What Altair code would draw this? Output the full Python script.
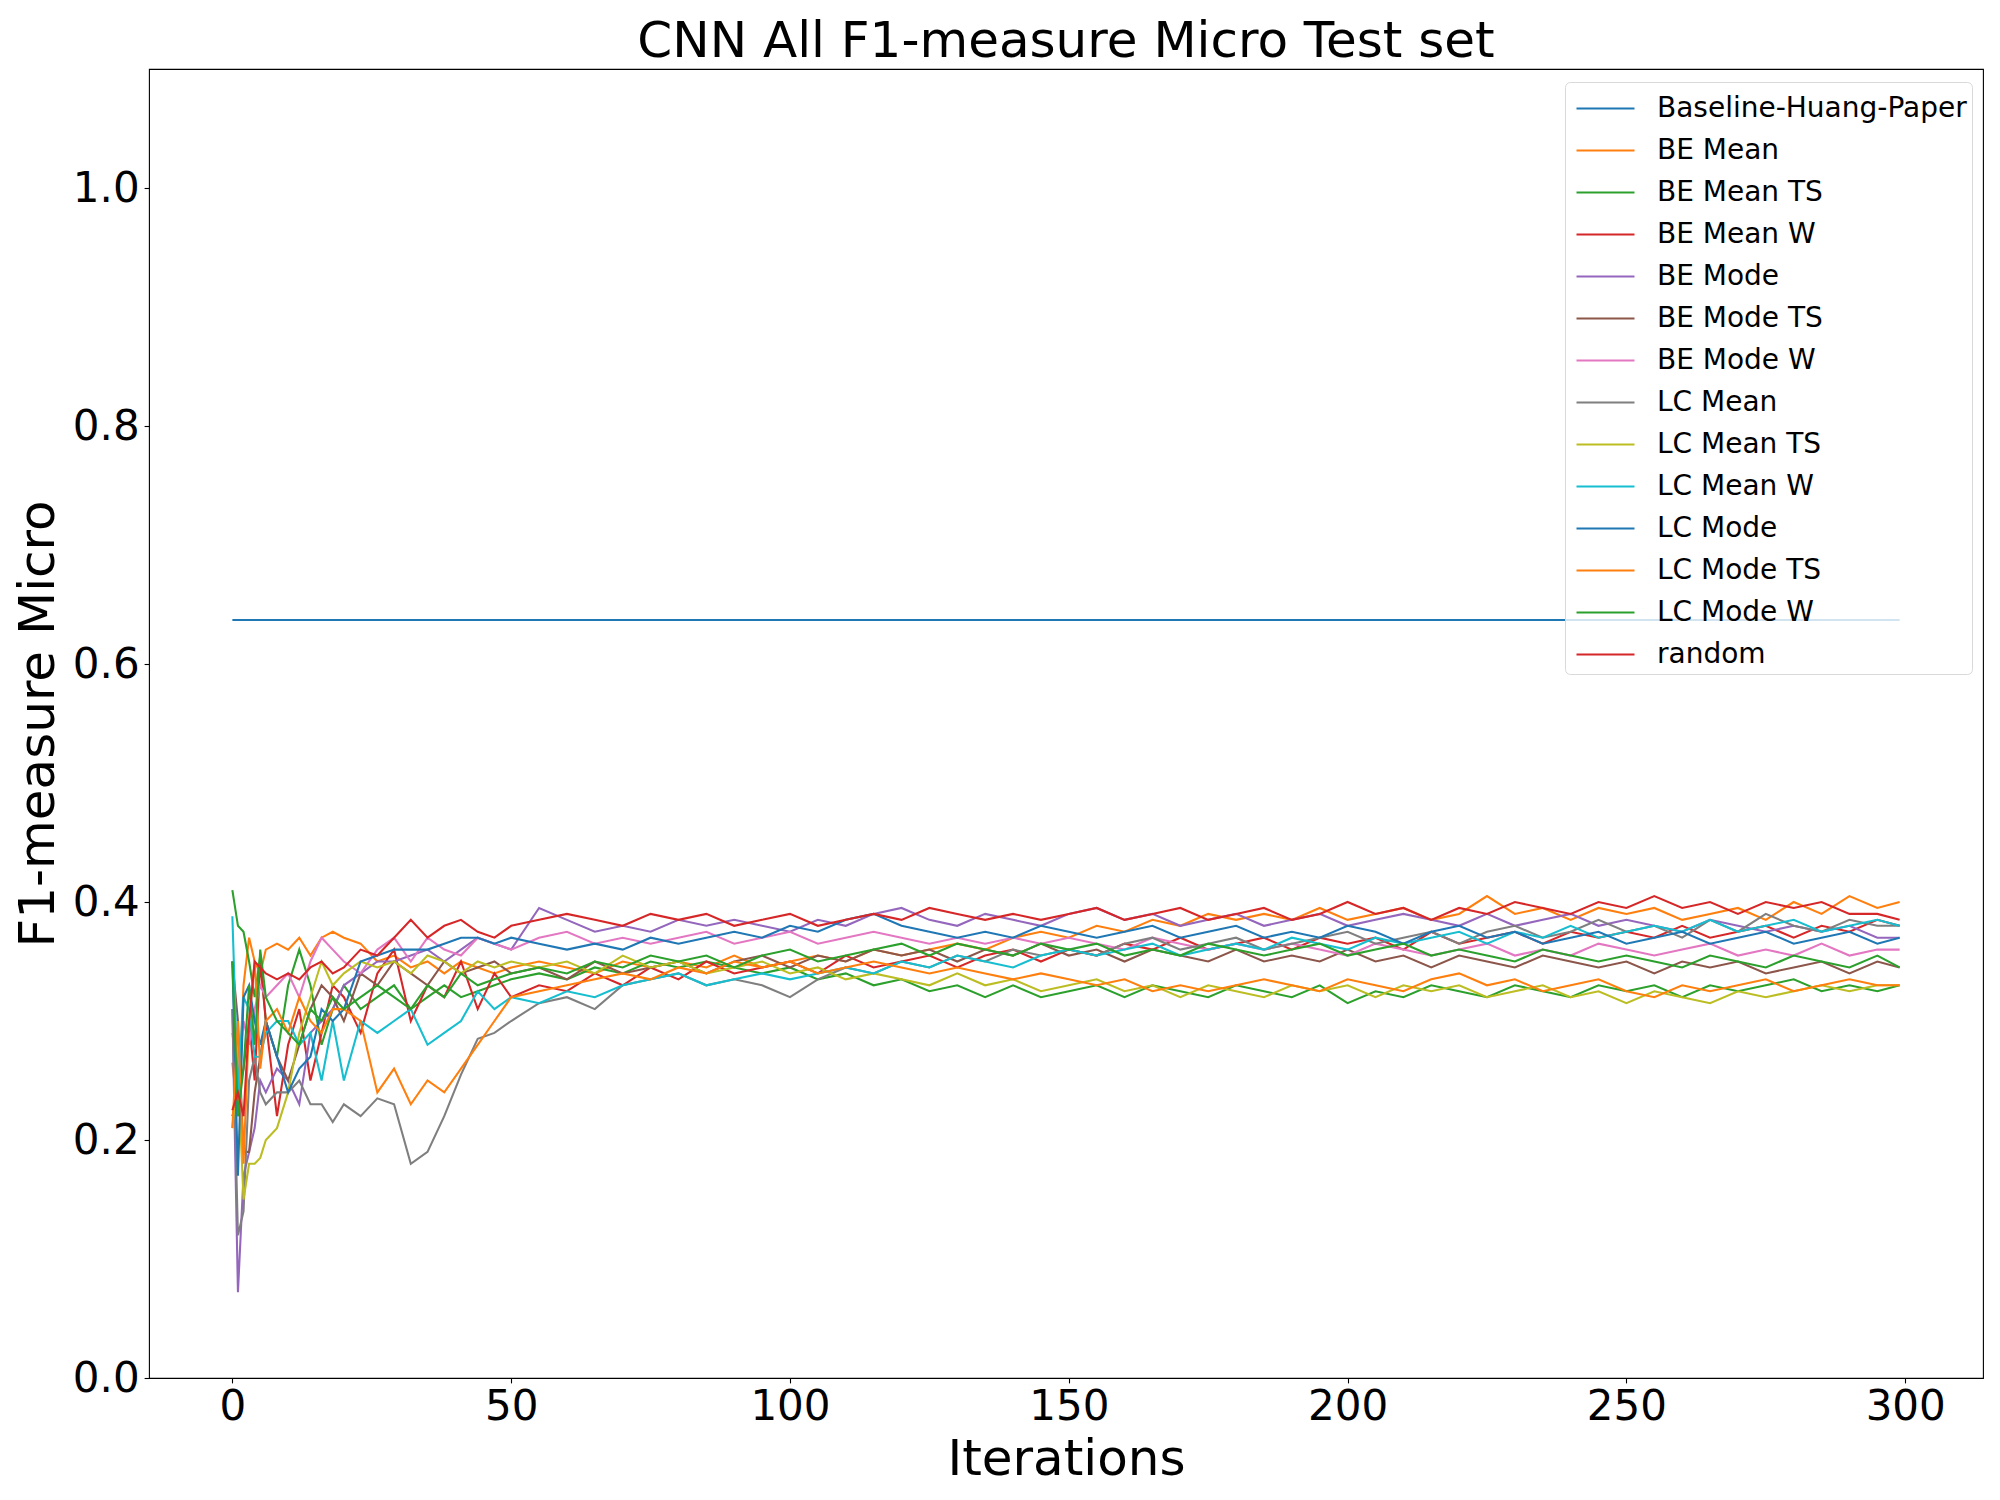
import altair as alt
import pandas as pd

NAMES = ["Baseline-Huang-Paper", "BE Mean", "BE Mean TS", "BE Mean W", "BE Mode",
         "BE Mode TS", "BE Mode W", "LC Mean", "LC Mean TS", "LC Mean W",
         "LC Mode", "LC Mode TS", "LC Mode W", "random"]
COLORS = ["#1f77b4", "#ff7f0e", "#2ca02c", "#d62728", "#9467bd", "#8c564b",
          "#e377c2", "#7f7f7f", "#bcbd22", "#17becf", "#1f77b4", "#ff7f0e",
          "#2ca02c", "#d62728"]

ITER_EARLY = [0, 1, 2, 3, 4, 5, 6, 8, 10, 12, 14, 16, 18, 20, 23, 26, 29, 32, 35, 38, 41, 44, 47, 50]
ITER_LATE = [55, 60, 65, 70, 75, 80, 85, 90, 95, 100,
             105, 110, 115, 120, 125, 130, 135, 140, 145, 150,
             155, 160, 165, 170, 175, 180, 185, 190, 195, 200,
             205, 210, 215, 220, 225, 230, 235, 240, 245, 250,
             255, 260, 265, 270, 275, 280, 285, 290, 295, 299]
ITERS = ITER_EARLY + ITER_LATE

BASELINE_ITERS = [0, 299]
BASELINE = [0.637, 0.637]

BE_MEAN = [0.265, 0.22, 0.33, 0.37, 0.35, 0.34, 0.36, 0.365, 0.36, 0.37, 0.355, 0.37, 0.375, 0.37, 0.365, 0.35, 0.355, 0.345, 0.35, 0.34, 0.35, 0.345, 0.34, 0.345] + [
    0.35, 0.345, 0.34, 0.35, 0.345, 0.35, 0.345, 0.355, 0.345, 0.35,
    0.355, 0.35, 0.36, 0.355, 0.36, 0.365, 0.36, 0.37, 0.375, 0.37,
    0.38, 0.375, 0.385, 0.38, 0.39, 0.385, 0.39, 0.385, 0.395, 0.385,
    0.39, 0.395, 0.385, 0.39, 0.405, 0.39, 0.395, 0.385, 0.395, 0.39,
    0.395, 0.385, 0.39, 0.395, 0.385, 0.4, 0.39, 0.405, 0.395, 0.40]

BE_MEAN_TS = [0.41, 0.38, 0.375, 0.35, 0.32, 0.355, 0.30, 0.27, 0.33, 0.36, 0.33, 0.28, 0.31, 0.33, 0.31, 0.32, 0.33, 0.31, 0.32, 0.33, 0.32, 0.325, 0.33, 0.335] + [
    0.34, 0.335, 0.345, 0.34, 0.35, 0.345, 0.35, 0.345, 0.34, 0.345,
    0.335, 0.34, 0.33, 0.335, 0.325, 0.33, 0.32, 0.33, 0.32, 0.325,
    0.33, 0.32, 0.33, 0.325, 0.32, 0.33, 0.325, 0.32, 0.33, 0.315,
    0.325, 0.32, 0.33, 0.325, 0.32, 0.33, 0.325, 0.32, 0.33, 0.325,
    0.33, 0.32, 0.33, 0.325, 0.33, 0.335, 0.325, 0.33, 0.325, 0.33]

BE_MEAN_W = [0.22, 0.24, 0.26, 0.30, 0.25, 0.35, 0.30, 0.22, 0.28, 0.31, 0.25, 0.29, 0.33, 0.32, 0.29, 0.34, 0.36, 0.30, 0.33, 0.32, 0.35, 0.31, 0.34, 0.32] + [
    0.33, 0.325, 0.34, 0.33, 0.345, 0.335, 0.35, 0.34, 0.345, 0.35,
    0.34, 0.355, 0.345, 0.35, 0.355, 0.345, 0.355, 0.36, 0.35, 0.36,
    0.355, 0.365, 0.36, 0.37, 0.36, 0.365, 0.37, 0.36, 0.37, 0.365,
    0.37, 0.36, 0.375, 0.365, 0.37, 0.375, 0.365, 0.375, 0.37, 0.375,
    0.37, 0.38, 0.37, 0.375, 0.38, 0.37, 0.38, 0.375, 0.385, 0.38]

BE_MODE = [0.31, 0.072, 0.17, 0.19, 0.21, 0.25, 0.24, 0.26, 0.25, 0.23, 0.29, 0.30, 0.31, 0.33, 0.34, 0.35, 0.35, 0.355, 0.36, 0.35, 0.36, 0.37, 0.365, 0.36] + [
    0.395, 0.385, 0.375, 0.38, 0.375, 0.385, 0.38, 0.385, 0.38, 0.375,
    0.385, 0.38, 0.39, 0.395, 0.385, 0.38, 0.39, 0.385, 0.38, 0.39,
    0.395, 0.385, 0.39, 0.38, 0.385, 0.39, 0.38, 0.385, 0.39, 0.38,
    0.385, 0.39, 0.385, 0.38, 0.39, 0.38, 0.385, 0.39, 0.38, 0.385,
    0.38, 0.375, 0.385, 0.38, 0.375, 0.38, 0.375, 0.38, 0.37, 0.37]

BE_MODE_TS = [0.35, 0.30, 0.19, 0.19, 0.24, 0.27, 0.30, 0.27, 0.25, 0.28, 0.31, 0.33, 0.32, 0.30, 0.34, 0.33, 0.35, 0.34, 0.33, 0.35, 0.34, 0.345, 0.35, 0.34] + [
    0.345, 0.335, 0.35, 0.34, 0.345, 0.35, 0.34, 0.35, 0.355, 0.345,
    0.355, 0.35, 0.36, 0.355, 0.36, 0.35, 0.36, 0.355, 0.365, 0.355,
    0.36, 0.35, 0.36, 0.355, 0.35, 0.36, 0.35, 0.355, 0.35, 0.36,
    0.35, 0.355, 0.345, 0.355, 0.35, 0.345, 0.355, 0.35, 0.345, 0.35,
    0.34, 0.35, 0.345, 0.35, 0.34, 0.345, 0.35, 0.34, 0.35, 0.345]

BE_MODE_W = [0.29, 0.25, 0.30, 0.28, 0.31, 0.33, 0.32, 0.33, 0.34, 0.32, 0.35, 0.37, 0.36, 0.35, 0.34, 0.36, 0.37, 0.35, 0.37, 0.36, 0.355, 0.37, 0.365, 0.36] + [
    0.37, 0.375, 0.365, 0.37, 0.365, 0.37, 0.375, 0.365, 0.37, 0.375,
    0.365, 0.37, 0.375, 0.37, 0.365, 0.37, 0.365, 0.37, 0.365, 0.37,
    0.365, 0.36, 0.37, 0.365, 0.36, 0.365, 0.36, 0.365, 0.36, 0.355,
    0.365, 0.36, 0.355, 0.36, 0.365, 0.355, 0.36, 0.355, 0.365, 0.36,
    0.355, 0.36, 0.365, 0.355, 0.36, 0.355, 0.365, 0.355, 0.36, 0.36]

LC_MEAN = [0.31, 0.12, 0.14, 0.25, 0.27, 0.24, 0.23, 0.24, 0.24, 0.25, 0.23, 0.23, 0.215, 0.23, 0.22, 0.235, 0.23, 0.18, 0.19, 0.22, 0.255, 0.285, 0.29, 0.30] + [
    0.315, 0.32, 0.31, 0.33, 0.335, 0.34, 0.33, 0.335, 0.33, 0.32,
    0.335, 0.345, 0.34, 0.35, 0.345, 0.355, 0.35, 0.36, 0.355, 0.36,
    0.355, 0.365, 0.37, 0.36, 0.365, 0.37, 0.36, 0.365, 0.37, 0.375,
    0.365, 0.37, 0.375, 0.365, 0.375, 0.38, 0.37, 0.375, 0.385, 0.375,
    0.38, 0.37, 0.385, 0.375, 0.39, 0.38, 0.375, 0.385, 0.38, 0.38]

LC_MEAN_TS = [0.21, 0.26, 0.15, 0.18, 0.18, 0.185, 0.20, 0.21, 0.24, 0.29, 0.32, 0.35, 0.33, 0.34, 0.35, 0.345, 0.35, 0.34, 0.355, 0.35, 0.34, 0.35, 0.345, 0.35] + [
    0.345, 0.35, 0.34, 0.355, 0.345, 0.35, 0.34, 0.345, 0.35, 0.34,
    0.345, 0.335, 0.34, 0.335, 0.33, 0.34, 0.33, 0.335, 0.325, 0.33,
    0.335, 0.325, 0.33, 0.32, 0.33, 0.325, 0.32, 0.33, 0.325, 0.33,
    0.32, 0.33, 0.325, 0.33, 0.32, 0.325, 0.33, 0.32, 0.325, 0.315,
    0.325, 0.32, 0.315, 0.325, 0.32, 0.325, 0.33, 0.325, 0.33, 0.33]

LC_MEAN_W = [0.388, 0.24, 0.32, 0.31, 0.27, 0.27, 0.29, 0.30, 0.30, 0.28, 0.29, 0.25, 0.30, 0.25, 0.30, 0.29, 0.30, 0.31, 0.28, 0.29, 0.30, 0.325, 0.31, 0.32] + [
    0.315, 0.325, 0.32, 0.33, 0.335, 0.34, 0.33, 0.335, 0.34, 0.335,
    0.34, 0.345, 0.34, 0.35, 0.345, 0.355, 0.35, 0.345, 0.355, 0.36,
    0.355, 0.36, 0.365, 0.355, 0.36, 0.365, 0.36, 0.37, 0.365, 0.36,
    0.37, 0.365, 0.37, 0.375, 0.365, 0.375, 0.37, 0.38, 0.37, 0.375,
    0.38, 0.375, 0.385, 0.375, 0.38, 0.385, 0.375, 0.38, 0.385, 0.38]

LC_MODE = [0.35, 0.17, 0.32, 0.33, 0.30, 0.28, 0.30, 0.27, 0.24, 0.26, 0.27, 0.31, 0.30, 0.31, 0.35, 0.355, 0.36, 0.36, 0.36, 0.365, 0.37, 0.37, 0.365, 0.37] + [
    0.365, 0.36, 0.365, 0.36, 0.37, 0.365, 0.37, 0.375, 0.37, 0.38,
    0.375, 0.385, 0.39, 0.38, 0.375, 0.37, 0.375, 0.37, 0.38, 0.375,
    0.37, 0.375, 0.38, 0.37, 0.375, 0.38, 0.37, 0.375, 0.37, 0.38,
    0.375, 0.365, 0.375, 0.38, 0.37, 0.375, 0.365, 0.37, 0.375, 0.365,
    0.37, 0.375, 0.365, 0.37, 0.375, 0.365, 0.37, 0.375, 0.365, 0.37]

LC_MODE_TS = [0.21, 0.30, 0.18, 0.30, 0.35, 0.26, 0.30, 0.31, 0.29, 0.32, 0.30, 0.29, 0.31, 0.31, 0.30, 0.24, 0.26, 0.23, 0.25, 0.24, 0.26, 0.28, 0.30, 0.32] + [
    0.325, 0.33, 0.335, 0.34, 0.335, 0.345, 0.34, 0.35, 0.345, 0.35,
    0.34, 0.345, 0.35, 0.345, 0.34, 0.345, 0.34, 0.335, 0.34, 0.335,
    0.33, 0.335, 0.325, 0.33, 0.325, 0.33, 0.335, 0.33, 0.325, 0.335,
    0.33, 0.325, 0.335, 0.34, 0.33, 0.335, 0.325, 0.33, 0.335, 0.325,
    0.32, 0.33, 0.325, 0.33, 0.335, 0.325, 0.33, 0.335, 0.33, 0.33]

LC_MODE_W = [0.35, 0.22, 0.26, 0.33, 0.28, 0.36, 0.32, 0.30, 0.29, 0.28, 0.31, 0.30, 0.32, 0.31, 0.32, 0.33, 0.32, 0.31, 0.33, 0.32, 0.34, 0.33, 0.335, 0.34] + [
    0.345, 0.34, 0.35, 0.345, 0.355, 0.35, 0.355, 0.345, 0.355, 0.36,
    0.35, 0.355, 0.36, 0.365, 0.355, 0.365, 0.36, 0.355, 0.365, 0.36,
    0.365, 0.355, 0.36, 0.355, 0.365, 0.36, 0.355, 0.36, 0.365, 0.355,
    0.36, 0.365, 0.355, 0.36, 0.355, 0.35, 0.36, 0.355, 0.35, 0.355,
    0.35, 0.345, 0.355, 0.35, 0.345, 0.355, 0.35, 0.345, 0.355, 0.345]

RANDOM = [0.225, 0.24, 0.22, 0.30, 0.35, 0.345, 0.34, 0.335, 0.34, 0.335, 0.345, 0.35, 0.34, 0.345, 0.36, 0.355, 0.37, 0.385, 0.37, 0.38, 0.385, 0.375, 0.37, 0.38] + [
    0.385, 0.39, 0.385, 0.38, 0.39, 0.385, 0.39, 0.38, 0.385, 0.39,
    0.38, 0.385, 0.39, 0.385, 0.395, 0.39, 0.385, 0.39, 0.385, 0.39,
    0.395, 0.385, 0.39, 0.395, 0.385, 0.39, 0.395, 0.385, 0.39, 0.4,
    0.39, 0.395, 0.385, 0.395, 0.39, 0.4, 0.395, 0.39, 0.4, 0.395,
    0.405, 0.395, 0.4, 0.39, 0.4, 0.395, 0.4, 0.39, 0.39, 0.385]

SERIES = [BE_MEAN, BE_MEAN_TS, BE_MEAN_W, BE_MODE, BE_MODE_TS, BE_MODE_W,
          LC_MEAN, LC_MEAN_TS, LC_MEAN_W, LC_MODE, LC_MODE_TS, LC_MODE_W, RANDOM]

rows = []
for it, v in zip(BASELINE_ITERS, BASELINE):
    rows.append({"series": NAMES[0], "iter": it, "f1": v, "k": 0})
for k, (name, vals) in enumerate(zip(NAMES[1:], SERIES), start=1):
    for it, v in zip(ITERS, vals):
        rows.append({"series": name, "iter": it, "f1": v, "k": k})
df = pd.DataFrame(rows)

FONT = "DejaVu Sans"

chart = alt.Chart(df).mark_line(strokeWidth=2.08).encode(
    x=alt.X("iter:Q",
            scale=alt.Scale(domain=[-14.95, 313.95], nice=False, zero=False),
            axis=alt.Axis(values=[0, 50, 100, 150, 200, 250, 300], title="Iterations",
                          titleX=917, titleY=96.5, titleBaseline="alphabetic",
                          titleAlign="center", labelPadding=3.5)),
    y=alt.Y("f1:Q",
            scale=alt.Scale(domain=[0, 1.1], nice=False),
            axis=alt.Axis(values=[0, 0.2, 0.4, 0.6, 0.8, 1.0], format=".1f",
                          title="F1-measure Micro", titleAngle=270,
                          titleX=-96, titleY=654.5, titleBaseline="alphabetic",
                          titleAlign="center", labelPadding=5)),
    color=alt.Color("series:N",
                    scale=alt.Scale(domain=NAMES, range=COLORS),
                    legend=alt.Legend(title=None, orient="none", legendX=1416, legendY=13,
                                      symbolType="M-0.75,0H2.15", symbolSize=1600,
                                      symbolStrokeWidth=2.08, labelFontSize=28,
                                      labelFont=FONT, labelColor="black",
                                      labelLimit=0, labelOffset=44, rowPadding=6,
                                      padding=5, fillColor="rgba(255,255,255,0.8)",
                                      strokeColor="#d9d9d9", cornerRadius=5)),
    detail="k:N",
).properties(
    width=1834, height=1309,
    title=alt.TitleParams("CNN All F1-measure Micro Test set", fontSize=50, font=FONT,
                          fontWeight="normal", color="black", anchor="middle",
                          baseline="alphabetic", offset=9, dy=47, frame="group"),
    autosize=alt.AutoSizeParams(type="none"),
    padding={"left": 141, "top": 61, "right": 9, "bottom": 114},
).configure_view(
    stroke="black", strokeWidth=1.1
).configure_axis(
    grid=False, domain=False, tickColor="black", tickWidth=1.1, tickSize=4.9,
    labelFont=FONT, labelFontSize=42, labelColor="black",
    titleFont=FONT, titleFontSize=50, titleFontWeight="normal", titleColor="black",
)

chart.save("out.html", embed_options={"renderer": "svg", "actions": False})
